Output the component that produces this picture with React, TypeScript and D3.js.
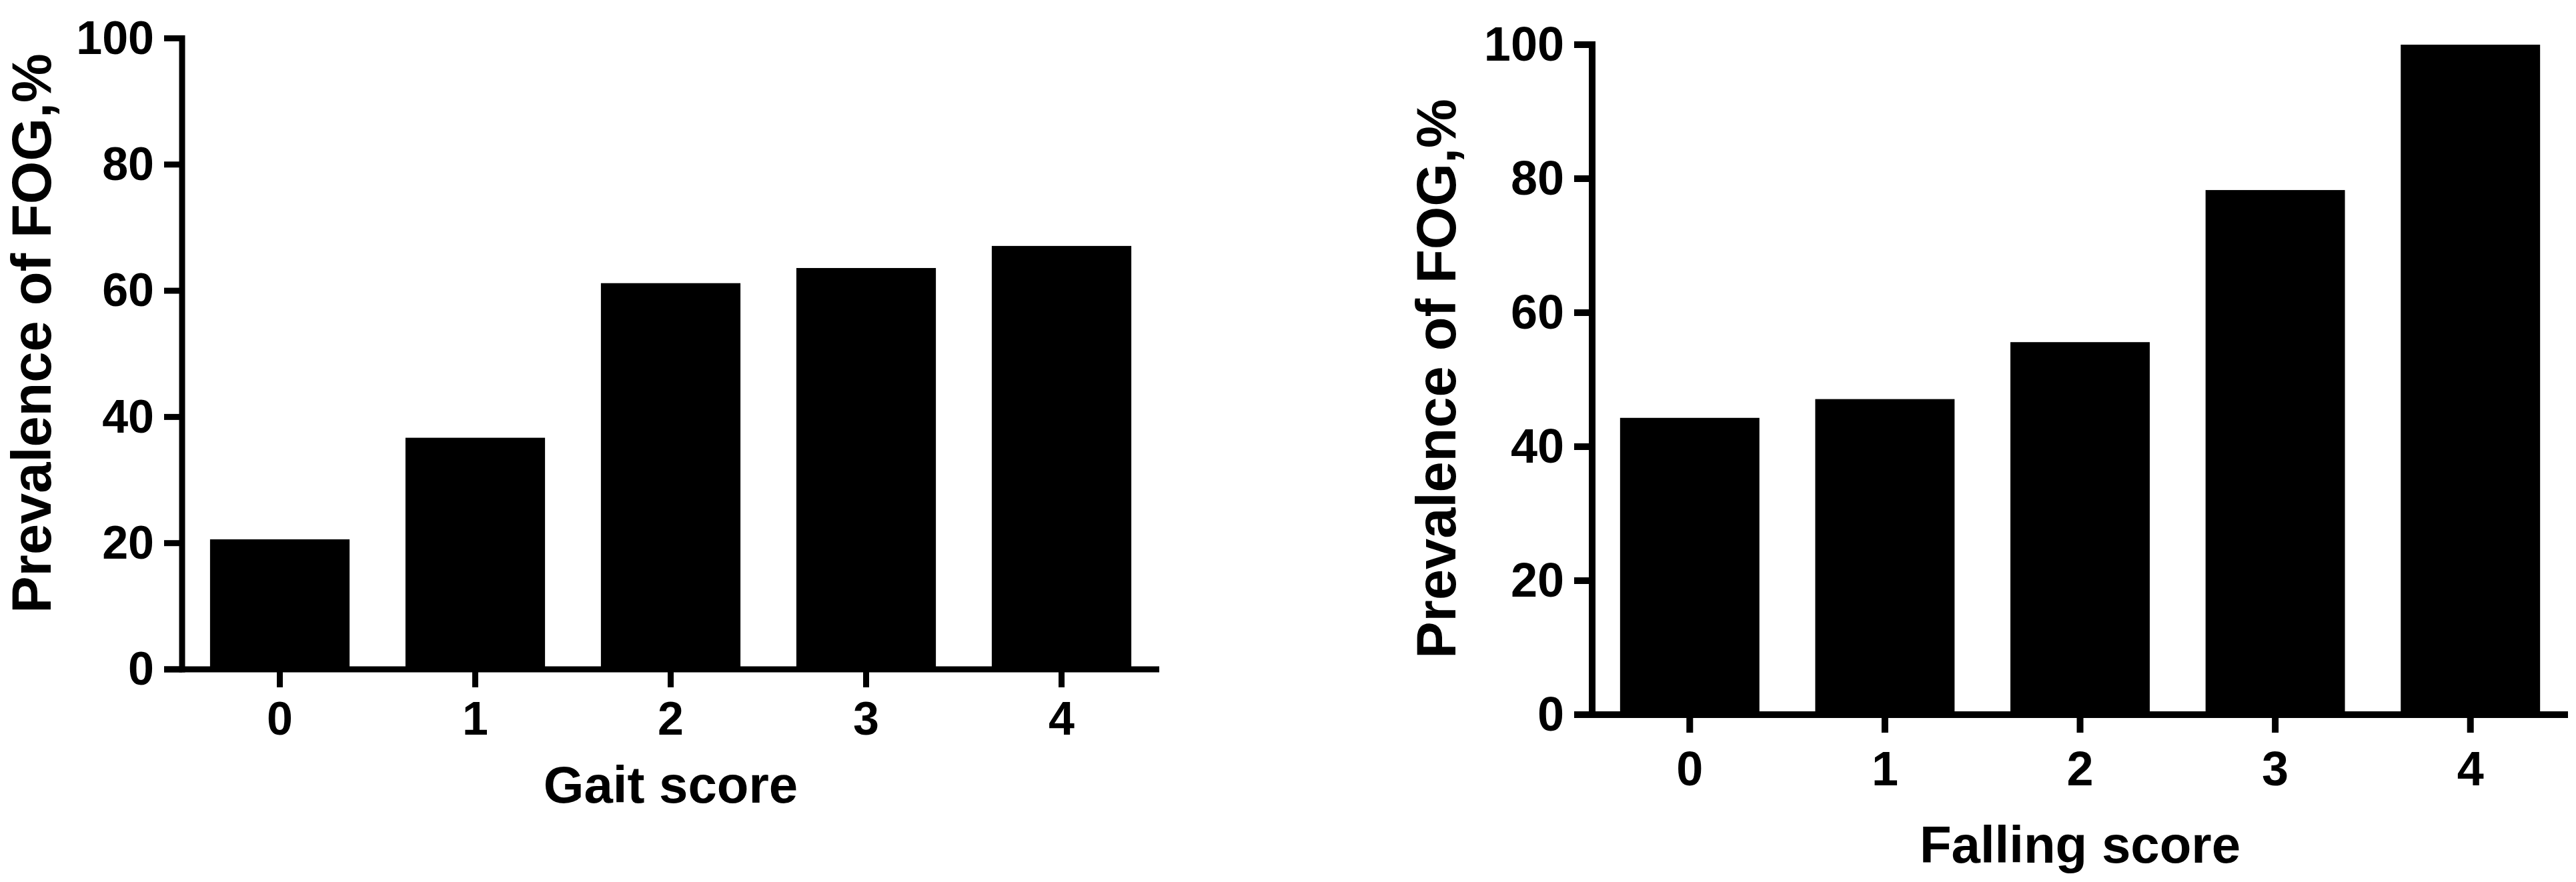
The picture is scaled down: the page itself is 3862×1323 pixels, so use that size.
import React, { useEffect } from 'react';
import * as d3 from 'd3';

const gaitCategories = ['0', '1', '2', '3', '4'];
const gaitValues = [20.6, 36.7, 61.2, 63.6, 67.1];
const fallingCategories = ['0', '1', '2', '3', '4'];
const fallingValues = [44.3, 47.1, 55.6, 78.3, 100];
const yTicks = [0, 20, 40, 60, 80, 100];
const yLabel = 'Prevalence of FOG,%';
const gaitTitle = 'Gait score';
const fallingTitle = 'Falling score';

type PanelCfg = {
  categories: string[];
  values: number[];
  title: string;
  x0: number;
  x1: number;
  yTop: number;
  yBottom: number;
  tickFont: number;
  titleFont: number;
  yLabelFont: number;
  yLabelX: number;
  yLabelY: number;
  tickLen: number;
  stroke: number;
  xLabelBaseline: number;
  titleBaseline: number;
  yTickGap: number;
};

const FONT = '"Liberation Sans", Arial, Helvetica, sans-serif';

function Panel({ cfg }: { cfg: PanelCfg }) {
  const x = d3
    .scaleBand<string>()
    .domain(cfg.categories)
    .range([cfg.x0, cfg.x1])
    .paddingInner(0.286)
    .paddingOuter(0.143);
  const y = d3.scaleLinear().domain([0, 100]).range([cfg.yBottom, cfg.yTop]);
  const sw = cfg.stroke;
  return (
    <g>
      {cfg.categories.map((c, i) => (
        <rect
          key={c}
          x={x(c)}
          y={y(cfg.values[i])}
          width={x.bandwidth()}
          height={y(0) - y(cfg.values[i])}
          fill="#000"
        />
      ))}
      {/* y axis */}
      <line x1={cfg.x0} x2={cfg.x0} y1={y(100) - sw / 2} y2={y(0) + sw / 2} stroke="#000" strokeWidth={sw} />
      {yTicks.map((t) => (
        <g key={t}>
          <line x1={cfg.x0 - cfg.tickLen} x2={cfg.x0} y1={y(t)} y2={y(t)} stroke="#000" strokeWidth={sw} />
          <text
            x={cfg.x0 - cfg.tickLen - cfg.yTickGap}
            y={y(t)}
            dy="0.33em"
            textAnchor="end"
            fontFamily={FONT}
            fontWeight="bold"
            fontSize={cfg.tickFont}
            fill="#000"
          >
            {t}
          </text>
        </g>
      ))}
      {/* x axis */}
      <line x1={cfg.x0 - cfg.tickLen} x2={cfg.x1} y1={y(0)} y2={y(0)} stroke="#000" strokeWidth={sw} />
      {cfg.categories.map((c) => {
        const cx = (x(c) as number) + x.bandwidth() / 2;
        return (
          <g key={'t' + c}>
            <line x1={cx} x2={cx} y1={y(0)} y2={y(0) + cfg.tickLen} stroke="#000" strokeWidth={sw} />
            <text
              x={cx}
              y={cfg.xLabelBaseline}
              textAnchor="middle"
              fontFamily={FONT}
              fontWeight="bold"
              fontSize={cfg.tickFont}
              fill="#000"
            >
              {c}
            </text>
          </g>
        );
      })}
      <text
        x={(cfg.x0 + cfg.x1) / 2}
        y={cfg.titleBaseline}
        textAnchor="middle"
        fontFamily={FONT}
        fontWeight="bold"
        fontSize={cfg.titleFont}
        fill="#000"
      >
        {cfg.title}
      </text>
      <text
        transform={`translate(${cfg.yLabelX},${cfg.yLabelY}) rotate(-90)`}
        textAnchor="middle"
        dy="0.36em"
        fontFamily={FONT}
        fontWeight="bold"
        fontSize={cfg.yLabelFont}
        fill="#000"
      >
        {yLabel}
      </text>
    </g>
  );
}

const leftCfg: PanelCfg = {
  categories: gaitCategories,
  values: gaitValues,
  title: gaitTitle,
  x0: 273,
  x1: 1738,
  yTop: 57.5,
  yBottom: 1004,
  tickFont: 70,
  titleFont: 78,
  yLabelFont: 83,
  yLabelX: 46,
  yLabelY: 500,
  tickLen: 27,
  stroke: 9,
  xLabelBaseline: 1102,
  titleBaseline: 1204,
  yTickGap: 15,
};

const rightCfg: PanelCfg = {
  categories: fallingCategories,
  values: fallingValues,
  title: fallingTitle,
  x0: 2387,
  x1: 3850,
  yTop: 67,
  yBottom: 1072,
  tickFont: 72,
  titleFont: 78,
  yLabelFont: 83,
  yLabelX: 2152,
  yLabelY: 568,
  tickLen: 27,
  stroke: 10,
  xLabelBaseline: 1178,
  titleBaseline: 1294,
  yTickGap: 15,
};

export default function App() {
  useEffect(() => {
    document.body.style.margin = '0';
  }, []);
  return (
    <svg width={3862} height={1323} style={{ display: 'block', background: '#fff' }}>
      <rect width={3862} height={1323} fill="#fff" />
      <Panel cfg={leftCfg} />
      <Panel cfg={rightCfg} />
    </svg>
  );
}
